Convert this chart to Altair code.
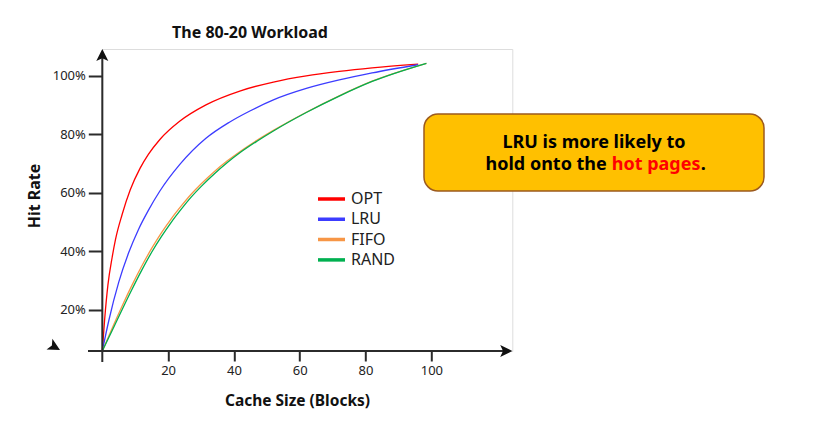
import altair as alt
import pandas as pd

FONT = "Noto Sans"

# ---------------- data ----------------
series_names = ["OPT", "LRU", "FIFO", "RAND"]
series_colors = ["#FF0000", "#3C3CFF", "#F79646", "#00B050"]

opt_x = [0, 0.7, 1.7, 3, 4, 6, 8.5, 11.5, 14, 17.5, 23.5, 31.5, 42, 52, 62, 72, 82, 96]
opt_y = [6, 16.6, 28.5, 38, 44, 52.5, 61, 68.4, 73.1, 78.2, 84.4, 90, 94.8, 97.8, 99.9, 101.4, 102.6, 103.9]

lru_x = [0, 2, 5, 8, 11, 14, 17.5, 23.5, 31.5, 38.5, 45, 52, 62, 72, 82, 96]
lru_y = [6, 16.5, 29.5, 39.5, 47.5, 54, 60.6, 69.6, 78.6, 84, 88, 91.7, 95.6, 98.5, 100.9, 103.7]

fifo_x = [0, 3, 6, 9, 12, 15, 18, 21, 24, 27, 30, 34, 38, 42, 47, 52, 62, 72, 82, 98.5]
fifo_y = [6, 13.8, 21.3, 28.4, 35, 41, 46.4, 51.2, 55.5, 59.5, 63, 67.2, 70.9, 74.2, 77.9, 81.3, 87.5, 93.1, 98.1, 104.2]

rand_x = [0, 3, 6, 9, 12, 15, 18, 21, 24, 27, 30, 34, 38, 42, 47, 52, 62, 72, 82, 98.5]
rand_y = [6, 13, 20.1, 27, 33.6, 39.7, 45.1, 50, 54.4, 58.5, 62.1, 66.4, 70.3, 73.8, 77.6, 81.1, 87.4, 93, 98, 104.2]

x_ticks = [20, 40, 60, 80, 100]
y_ticks = [20, 40, 60, 80, 100]

title_text = "The 80-20 Workload"
x_title = "Cache Size (Blocks)"
y_title = "Hit Rate"
note_line1 = "LRU is more likely to"
note_line2a = "hold onto the"
note_line2b = "hot pages"
note_line2c = "."

rows = []
for name, xs, ys in [("OPT", opt_x, opt_y), ("LRU", lru_x, lru_y),
                     ("FIFO", fifo_x, fifo_y), ("RAND", rand_x, rand_y)]:
    for xv, yv in zip(xs, ys):
        rows.append({"series": name, "x": xv, "y": yv})
df = pd.DataFrame(rows)
one = pd.DataFrame({"a": [0]})

W, H = 410, 302
ARROW = "M0,-1L0.65,0.3L0,0L-0.65,0.3Z"
AXIS_COLOR = "#2b2b2b"

lines = alt.Chart(df).mark_line(strokeWidth=1.3, interpolate="monotone").encode(
    x=alt.X("x:Q", scale=alt.Scale(domain=[0, 124.6], nice=False, zero=False),
            axis=alt.Axis(values=x_ticks, tickSize=10, tickWidth=2, tickColor=AXIS_COLOR,
                          domain=False, grid=False, labelFontSize=13, labelPadding=4,
                          labelColor="#222", labelFont=FONT, title=None)),
    y=alt.Y("y:Q", scale=alt.Scale(domain=[6.0, 109.07], nice=False, zero=False),
            axis=alt.Axis(values=y_ticks, labelExpr="datum.value + '%'", tickSize=14,
                          tickWidth=2, tickColor=AXIS_COLOR, domain=False, grid=False,
                          labelFontSize=13, labelPadding=3, labelColor="#222",
                          labelFont=FONT, title=None)),
    color=alt.Color("series:N",
                    scale=alt.Scale(domain=series_names, range=series_colors),
                    legend=alt.Legend(orient="none", legendX=213.7, legendY=140, title=None,
                                      symbolType="stroke", symbolSize=729, symbolStrokeWidth=3.5,
                                      labelFontSize=16, labelFont=FONT, labelColor="#222",
                                      labelOffset=4, clipHeight=20, rowPadding=0.3, padding=0)),
)

yaxis_line = alt.Chart(one).mark_rule(color=AXIS_COLOR, strokeWidth=2).encode(
    x=alt.value(0), y=alt.value(6), y2=alt.value(H + 11))
xaxis_line = alt.Chart(one).mark_rule(color=AXIS_COLOR, strokeWidth=2).encode(
    x=alt.value(-14.3), x2=alt.value(W - 6), y=alt.value(H))

arrow_up = alt.Chart(one).mark_point(shape=ARROW, filled=True, size=345, color="#111",
                                     opacity=1, strokeWidth=0).encode(
    x=alt.value(0), y=alt.value(9.3))
arrow_right = alt.Chart(one).mark_point(shape=ARROW, filled=True, size=345, color="#111",
                                        opacity=1, strokeWidth=0, angle=90).encode(
    x=alt.value(W - 9.3), y=alt.value(H))
arrow_stray = alt.Chart(one).mark_point(shape=ARROW, filled=True, size=345, color="#111",
                                        opacity=1, strokeWidth=0, angle=119).encode(
    x=alt.value(-50.4), y=alt.value(296.5))

title = alt.Chart(one).mark_text(text=title_text, font=FONT, fontSize=16, fontWeight="bold",
                                 color="#111", align="center", baseline="middle").encode(
    x=alt.value(147.7), y=alt.value(-16))
xtitle = alt.Chart(one).mark_text(text=x_title, font=FONT, fontSize=15.5, fontWeight="bold",
                                  color="#111", align="center", baseline="middle").encode(
    x=alt.value(195.2), y=alt.value(352))
ytitle = alt.Chart(one).mark_text(text=y_title, font=FONT, fontSize=16, fontWeight="bold",
                                  color="#111", align="center", baseline="middle",
                                  angle=270).encode(
    x=alt.value(-67.3), y=alt.value(147))

box = alt.Chart(one).mark_rect(fill="#FFC000", stroke="#9C5A1E", strokeWidth=1.5,
                               cornerRadius=14).encode(
    x=alt.value(321.7), x2=alt.value(661.7), y=alt.value(65), y2=alt.value(142))
t1 = alt.Chart(one).mark_text(text=note_line1, font=FONT, fontSize=18, fontWeight="bold",
                              color="#000", align="center", baseline="middle").encode(
    x=alt.value(491.7), y=alt.value(94))
t2a = alt.Chart(one).mark_text(text=note_line2a, font=FONT, fontSize=18, fontWeight="bold",
                               color="#000", align="right", baseline="middle").encode(
    x=alt.value(504.5), y=alt.value(116))
t2b = alt.Chart(one).mark_text(text=note_line2b, font=FONT, fontSize=18, fontWeight="bold",
                               color="#FF0000", align="left", baseline="middle").encode(
    x=alt.value(509.5), y=alt.value(116))
t2c = alt.Chart(one).mark_text(text=note_line2c, font=FONT, fontSize=18, fontWeight="bold",
                               color="#000", align="left", baseline="middle").encode(
    x=alt.value(598.5), y=alt.value(116))

chart = alt.layer(
    lines, yaxis_line, xaxis_line, arrow_up, arrow_right, arrow_stray,
    title, xtitle, ytitle, box, t1, t2a, t2b, t2c
).properties(
    width=W, height=H,
    autosize=alt.AutoSizeParams(type="none"),
    padding={"left": 94.3, "top": 41, "right": 302, "bottom": 65},
).configure_view(stroke=None).configure(background="white")

chart.save("out.html", embed_options={"renderer": "svg", "actions": False})
